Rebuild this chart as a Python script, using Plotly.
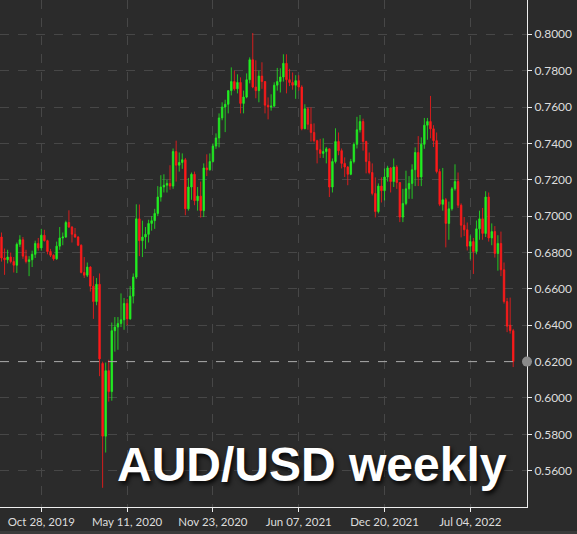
import pandas as pd
import plotly.graph_objects as go

# Weekly AUD/USD candles, week starting 2019-07-29
start_week = "2019-07-29"
opens = [
    .6885, .6770, .6760, .6775, .6750, .6730, .6845, .6870, .6780, .6750,
    .6760, .6790, .6850, .6825, .6895, .6865, .6805, .6785, .6765, .6835,
    .6880, .6885, .6965, .6940, .6900, .6885, .6840, .6690, .6675, .6720,
    .6615, .6530, .6625, .6190, .5790, .6150, .6035, .6370, .6390, .6410,
    .6430, .6520, .6435, .6560, .6665, .6985, .6865, .6885, .6900, .6960,
    .6975, .7015, .7105, .7160, .7170, .7180, .7165, .7355, .7280, .7295,
    .7310, .7040, .7160, .7230, .7085, .7110, .7030, .7265, .7255, .7300,
    .7385, .7430, .7540, .7600, .7615, .7690, .7740, .7700, .7735, .7620,
    .7655, .7750, .7860, .7710, .7690, .7770, .7740, .7610, .7600, .7605,
    .7720, .7740, .7765, .7840, .7750, .7735, .7720, .7745, .7710, .7480,
    .7590, .7505, .7460, .7415, .7365, .7345, .7355, .7370, .7160, .7300,
    .7410, .7360, .7290, .7270, .7230, .7300, .7395, .7475, .7520, .7410,
    .7300, .7240, .7125, .7025, .7165, .7140, .7215, .7265, .7190, .7270,
    .7185, .6995, .7070, .7150, .7180, .7255, .7350, .7215, .7395, .7500,
    .7520, .7480, .7415, .7245, .7065, .7090, .6960, .7040, .7150, .7190,
    .7060, .6950, .6925, .6835, .6860, .6805, .6930, .6985, .6905, .7105,
    .6880, .6915, .6795, .6850, .6705, .6530, .6400, .6370,
]
highs = [
    .6910, .6822, .6815, .6800, .6775, .6855, .6895, .6885, .6815, .6780,
    .6810, .6865, .6880, .6930, .6925, .6870, .6820, .6790, .6860, .6940,
    .6910, .6975, .7032, .6945, .6935, .6890, .6845, .6775, .6745, .6725,
    .6670, .6660, .6685, .6200, .6195, .6210, .6415, .6445, .6445, .6575,
    .6550, .6545, .6615, .6685, .7065, .7064, .6975, .6940, .6980, .7000,
    .7040, .7165, .7225, .7230, .7200, .7280, .7372, .7415, .7350, .7345,
    .7320, .7210, .7240, .7245, .7160, .7190, .7290, .7340, .7345, .7400,
    .7455, .7565, .7626, .7640, .7692, .7818, .7800, .7780, .7763, .7690,
    .7785, .7873, .8007, .7857, .7800, .7846, .7700, .7653, .7670, .7736,
    .7815, .7813, .7890, .7890, .7810, .7790, .7775, .7775, .7720, .7615,
    .7600, .7598, .7510, .7420, .7425, .7428, .7380, .7372, .7317, .7483,
    .7460, .7372, .7323, .7275, .7315, .7405, .7546, .7556, .7536, .7415,
    .7350, .7290, .7213, .7180, .7213, .7262, .7277, .7270, .7317, .7280,
    .7186, .7150, .7250, .7220, .7285, .7378, .7440, .7433, .7540, .7540,
    .7661, .7500, .7460, .7260, .7265, .7100, .7080, .7160, .7285, .7240,
    .7070, .6995, .6965, .6894, .6880, .6976, .7030, .7045, .7137, .7130,
    .6960, .6945, .6895, .6915, .6745, .6550, .6552, .6380,
]
lows = [
    .6750, .6677, .6740, .6740, .6690, .6687, .6830, .6765, .6740, .6670,
    .6720, .6770, .6810, .6810, .6860, .6790, .6775, .6755, .6760, .6815,
    .6840, .6880, .6935, .6855, .6880, .6835, .6685, .6660, .6665, .6585,
    .6435, .6510, .6120, .5506, .5700, .5980, .5985, .6255, .6265, .6390,
    .6375, .6400, .6430, .6520, .6655, .6780, .6775, .6820, .6855, .6920,
    .6930, .7000, .7080, .7130, .7130, .7145, .7150, .7190, .7245, .7260,
    .7005, .7030, .7090, .7060, .7030, .6992, .6995, .7220, .7250, .7295,
    .7370, .7378, .7527, .7462, .7565, .7664, .7690, .7675, .7565, .7565,
    .7648, .7730, .7703, .7648, .7626, .7700, .7565, .7532, .7580, .7600,
    .7690, .7680, .7740, .7675, .7715, .7695, .7645, .7690, .7472, .7480,
    .7475, .7410, .7405, .7290, .7320, .7320, .7290, .7105, .7130, .7290,
    .7335, .7262, .7215, .7170, .7225, .7290, .7372, .7460, .7360, .7235,
    .7230, .7114, .6993, .7015, .7075, .7086, .7190, .7130, .7160, .7150,
    .6967, .6967, .7060, .7095, .7095, .7165, .7165, .7165, .7370, .7420,
    .7428, .7380, .7235, .7055, .7030, .6828, .6870, .7030, .7140, .7045,
    .6883, .6890, .6811, .6762, .6682, .6790, .6870, .6870, .6885, .6860,
    .6840, .6772, .6700, .6670, .6519, .6362, .6354, .6170,
]
closes = [
    .6770, .6760, .6775, .6750, .6730, .6845, .6870, .6780, .6750, .6760,
    .6790, .6850, .6825, .6895, .6865, .6805, .6785, .6765, .6835, .6880,
    .6885, .6965, .6940, .6900, .6885, .6840, .6690, .6675, .6720, .6615,
    .6530, .6625, .6215, .5790, .6150, .6035, .6370, .6390, .6410, .6430,
    .6520, .6435, .6560, .6665, .6985, .6865, .6885, .6900, .6960, .6975,
    .7015, .7105, .7160, .7170, .7180, .7165, .7355, .7280, .7295, .7310,
    .7040, .7160, .7230, .7085, .7110, .7030, .7265, .7255, .7300, .7385,
    .7430, .7540, .7600, .7615, .7690, .7740, .7700, .7735, .7620, .7655,
    .7750, .7860, .7710, .7690, .7770, .7740, .7610, .7600, .7605, .7720,
    .7740, .7765, .7840, .7750, .7735, .7720, .7745, .7710, .7480, .7590,
    .7505, .7460, .7415, .7365, .7345, .7355, .7370, .7160, .7300, .7410,
    .7360, .7290, .7270, .7230, .7300, .7395, .7475, .7520, .7410, .7300,
    .7240, .7125, .7025, .7165, .7140, .7215, .7265, .7190, .7270, .7185,
    .6995, .7070, .7150, .7180, .7255, .7350, .7215, .7395, .7500, .7520,
    .7480, .7415, .7245, .7065, .7090, .6960, .7040, .7150, .7190, .7060,
    .6950, .6925, .6835, .6860, .6805, .6930, .6985, .6905, .7105, .6880,
    .6915, .6795, .6850, .6705, .6530, .6395, .6370, .6200,
]

x_tick_dates = ["2019-10-28", "2020-05-11", "2020-11-23", "2021-06-07", "2021-12-20", "2022-07-04"]
x_tick_labels = ["Oct 28, 2019", "May 11, 2020", "Nov 23, 2020", "Jun 07, 2021", "Dec 20, 2021", "Jul 04, 2022"]
y_tick_values = [0.56, 0.58, 0.60, 0.62, 0.64, 0.66, 0.68, 0.70, 0.72, 0.74, 0.76, 0.78, 0.80]
title_text = "AUD/USD weekly"

weeks = pd.date_range(start_week, periods=len(closes), freq="7D")

BG = "#2b2b2b"
GREEN = "#22ee22"
RED = "#ff1a1a"

fig = go.Figure()
fig.add_trace(go.Candlestick(
    x=weeks, open=opens, high=highs, low=lows, close=closes,
    increasing=dict(line=dict(color=GREEN, width=0.8), fillcolor=GREEN),
    decreasing=dict(line=dict(color=RED, width=0.8), fillcolor=RED),
    whiskerwidth=0, showlegend=False, hoverinfo="skip",
))

last = closes[-1]
fig.add_shape(type="line", xref="paper", x0=0, x1=0.99, yref="y", y0=last, y1=last,
              line=dict(color="#a8a8a8", width=1, dash="dash"), layer="above")
fig.add_shape(type="circle", xref="paper", xsizemode="pixel", xanchor=1, x0=-5, x1=5,
              yref="y", ysizemode="pixel", yanchor=last, y0=-5, y1=5,
              fillcolor="#8a8a8a", line=dict(width=0), layer="above")
# bottom strip
fig.add_shape(type="rect", xref="paper", x0=-0.01, x1=1.2, yref="paper",
              y0=-27 / 507, y1=-24 / 507, fillcolor="#3a3a3a", line=dict(width=0))

fig.add_annotation(text=title_text, xref="paper", yref="paper", x=115 / 527, y=0.083,
                   xanchor="left", yanchor="middle", showarrow=False,
                   font=dict(family="Liberation Sans", size=48, color="white", weight="bold",
                             shadow="2px 3px 4px rgba(0,0,0,0.85)"))

fig.update_layout(
    width=577, height=534,
    margin=dict(l=0, r=50, t=0, b=27),
    paper_bgcolor=BG, plot_bgcolor=BG,
    font=dict(family="Lato", size=12, color="#dddddd"),
    xaxis=dict(
        type="date", range=["2019-07-25 14:00", "2022-11-10 12:00"],
        tickvals=x_tick_dates, ticktext=x_tick_labels, tickfont=dict(size=11.5),
        showgrid=True, gridcolor="#474747", griddash="dash", gridwidth=1,
        showline=True, linecolor="#eeeeee", linewidth=1,
        ticks="outside", ticklen=4, tickcolor="#eeeeee",
        rangeslider=dict(visible=False), zeroline=False, fixedrange=True,
    ),
    yaxis=dict(
        side="right", range=[0.54005, 0.81885],
        tickvals=y_tick_values, tickformat=".4f",
        showgrid=True, gridcolor="#474747", griddash="dash", gridwidth=1,
        showline=True, linecolor="#eeeeee", linewidth=1,
        ticks="outside", ticklen=4, tickcolor="#eeeeee",
        zeroline=False, fixedrange=True,
    ),
)

fig.write_html(
    "out.html",
    config={"displayModeBar": False},
    post_script="document.body.style.margin='0';document.body.style.background='" + BG + "';",
)
